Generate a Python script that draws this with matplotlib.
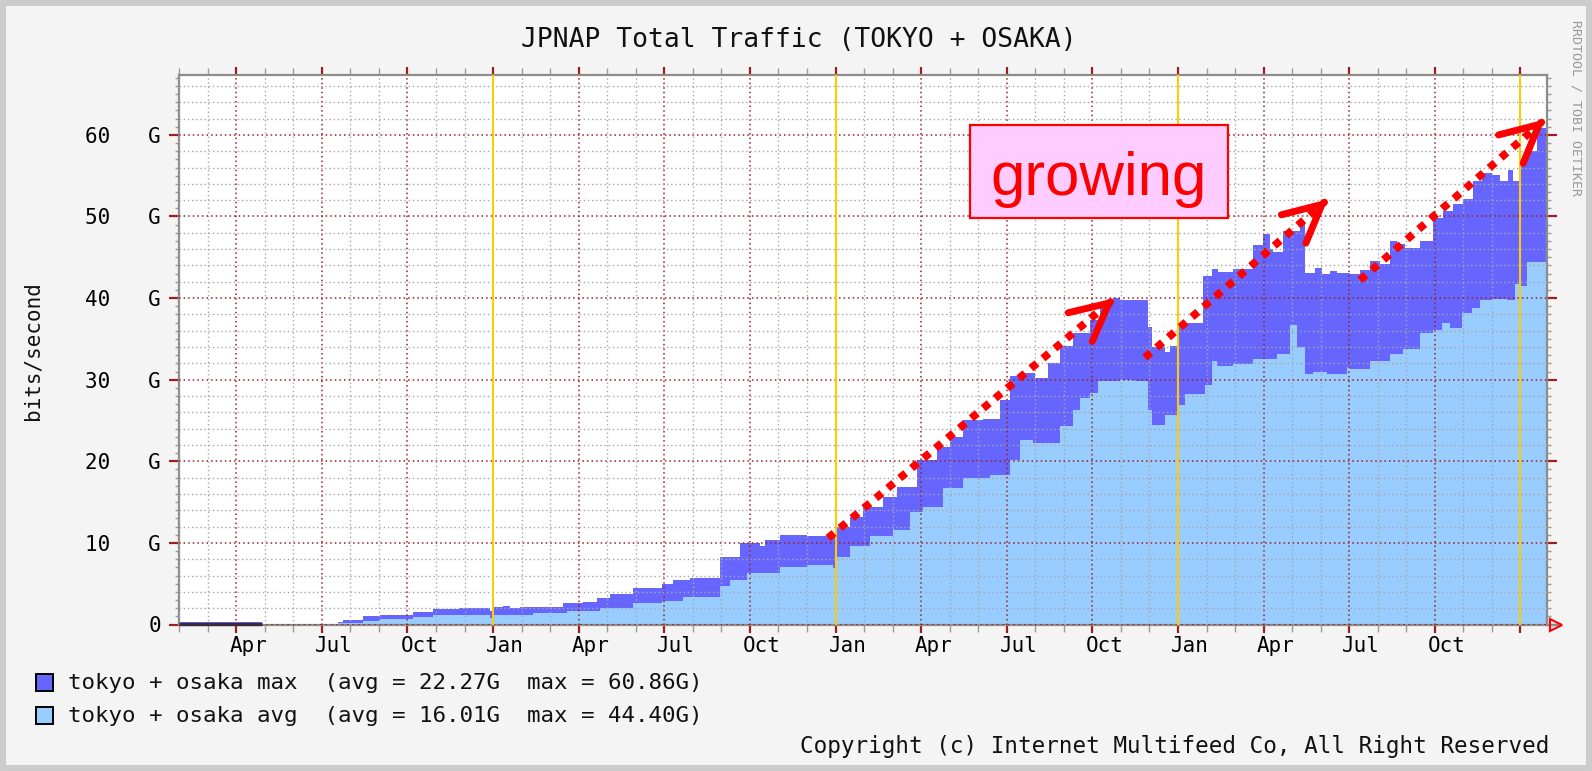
import numpy as np
import matplotlib
matplotlib.use("Agg")
import matplotlib.pyplot as plt
from matplotlib.patches import Rectangle
from matplotlib.transforms import blended_transform_factory

plt.rcParams['font.family'] = ['DejaVu Sans Mono']

# ---------------- data (x = months since January of the first year) ----------------
max_months = [1.0, 3.9, 6.57, 6.74, 7.44, 8.04, 9.19, 9.89, 10.84, 11.91,
              12.03, 12.35, 12.59, 12.94, 14.45, 15.15, 15.64, 16.10, 16.90, 17.92,
              18.30, 18.90, 19.95, 20.65, 21.35, 21.53, 22.05, 23.00, 23.98, 24.51,
              24.96, 25.66, 26.15, 26.85, 27.55, 28.01, 28.46, 29.16, 29.76, 30.11,
              30.53, 30.99, 31.44, 31.86, 32.32, 32.92, 33.27, 33.72, 33.97, 34.95,
              35.09, 35.54, 35.72, 36.00, 36.88, 37.19, 37.40, 37.93, 38.63, 38.98,
              39.23, 39.33, 39.68, 40.28, 40.45, 40.80, 41.05, 41.33, 41.57, 42.03,
              42.38, 42.73, 43.08, 43.43, 43.68, 43.96, 44.48, 44.93, 45.28, 45.63,
              45.99, 46.34, 46.65, 47.00, 47.28, 47.56, 47.74, 47.98, 48.16, 48.58]
max_vals = [0.25, 0.0, 0.3, 0.6, 1.0, 1.2, 1.5, 1.9, 2.0, 1.6,
            2.1, 2.3, 2.0, 2.2, 2.6, 2.8, 3.25, 3.7, 4.5, 5.0,
            5.4, 5.7, 8.25, 10.0, 9.6, 10.3, 11.0, 10.8, 12.0, 13.2,
            14.4, 15.6, 16.9, 20.1, 21.7, 23.0, 25.0, 25.2, 27.5, 30.5,
            30.8, 30.2, 32.0, 34.1, 35.7, 37.3, 39.4, 40.0, 39.8, 36.5,
            34.0, 33.4, 34.1, 37.0, 42.7, 43.6, 43.2, 43.6, 46.5, 47.8,
            46.0, 45.7, 48.2, 49.2, 43.1, 43.7, 42.9, 43.3, 43.1, 42.9,
            43.5, 44.6, 44.2, 47.0, 46.6, 46.2, 47.0, 49.8, 50.7, 51.5,
            52.1, 54.3, 55.3, 55.1, 54.3, 55.7, 54.3, 56.5, 58.0, 60.8]

avg_months = [1.0, 3.9, 6.57, 7.44, 8.04, 9.19, 9.89, 11.91, 12.03, 13.40,
              14.59, 15.75, 16.90, 17.92, 18.65, 19.95, 20.30, 20.90, 22.05, 23.00,
              23.91, 24.05, 24.51, 25.21, 26.01, 26.61, 27.07, 27.77, 28.46, 29.41,
              30.11, 30.46, 30.92, 31.86, 32.32, 32.57, 32.92, 33.20, 33.97, 34.49,
              34.95, 35.09, 35.54, 36.00, 36.24, 36.95, 37.19, 37.37, 37.93, 38.63,
              39.48, 39.93, 40.17, 40.45, 40.73, 41.22, 41.92, 42.03, 42.73, 43.43,
              43.89, 44.48, 44.93, 45.25, 45.53, 45.95, 46.30, 46.58, 47.04, 47.53,
              47.81, 47.98, 48.23]
avg_vals = [0.15, 0.0, 0.2, 0.4, 0.7, 0.9, 1.2, 0.8, 1.2, 1.4,
            1.7, 2.0, 2.6, 2.85, 3.4, 4.7, 5.5, 6.3, 7.1, 7.3,
            6.9, 8.3, 9.6, 10.8, 11.6, 13.8, 14.4, 16.7, 17.9, 18.3,
            20.1, 22.6, 22.2, 24.3, 26.3, 27.8, 28.4, 29.8, 30.0, 29.8,
            26.3, 24.4, 25.7, 26.9, 28.2, 29.4, 32.3, 31.7, 31.9, 32.5,
            33.2, 36.7, 34.0, 30.7, 30.9, 30.7, 31.5, 31.3, 32.3, 33.2,
            33.8, 35.7, 36.1, 36.9, 36.3, 38.2, 38.8, 39.8, 39.9, 39.8,
            41.7, 41.5, 44.4]
data_end = 48.93

quarter_months = list(range(3, 46, 3))
quarter_labels = ['Apr', 'Jul', 'Oct', 'Jan'] * 3 + ['Apr', 'Jul', 'Oct']
year_starts = [12, 24, 36, 48]

ytick_vals = [0, 10, 20, 30, 40, 50, 60]
ytick_labels = ['0', '10   G', '20   G', '30   G', '40   G', '50   G', '60   G']

legend_entries = [
    ('#6666ff', 'tokyo + osaka max  (avg = 22.27G  max = 60.86G)'),
    ('#99ccff', 'tokyo + osaka avg  (avg = 16.01G  max = 44.40G)'),
]

# growth arrows: (month0, G0, month1, G1)
arrows = [(23.74, 10.6, 33.79, 40.0),
          (34.84, 32.7, 41.25, 52.1),
          (42.38, 42.2, 48.86, 61.9)]

# ---------------- figure ----------------
W, H, DPI = 1592, 771, 100
fig = plt.figure(figsize=(W / DPI, H / DPI), dpi=DPI, facecolor='#f4f4f4')
L, R, T, B = 179, 1547, 75, 624.5
ax = fig.add_axes([L / W, 1 - B / H, (R - L) / W, (B - T) / H])
ax.set_facecolor('white')
ax.set_xlim(0.995, data_end)
ax.set_ylim(0, 67.34)

def stepped(xs, vs, end):
    return np.array(list(xs) + [end]), np.array(list(vs) + [vs[-1]])

n = min(len(max_months), len(max_vals))
mx, mv = stepped(max_months[:n], max_vals[:n], data_end)
n = min(len(avg_months), len(avg_vals))
axx, av = stepped(avg_months[:n], avg_vals[:n], data_end)

ax.fill_between(mx, 0, mv, step='post', color='#6666ff', lw=0, zorder=1)
ax.fill_between(axx, 0, av, step='post', color='#99ccff', lw=0, zorder=2)

# ---------------- grid ----------------
minor_c = '#a6a6a6'
major_c = '#9a2020'
dot = (0, (1, 2))
for m in range(1, 49):
    if m in year_starts:
        continue
    if m % 3 == 0:
        ax.axvline(m, color=major_c, lw=1.1, ls=dot, zorder=3)
    else:
        ax.axvline(m, color=minor_c, lw=1.0, ls=dot, zorder=3)
for g in range(2, 68, 2):
    if g % 10 == 0:
        ax.axhline(g, color=major_c, lw=1.1, ls=dot, zorder=3)
    else:
        ax.axhline(g, color=minor_c, lw=1.0, ls=dot, zorder=3)
ax.axhline(0, color=major_c, lw=1.3, ls=dot, zorder=3.5)
for m in year_starts:
    ax.axvline(m, color='#ffcc00', lw=1.5, zorder=4)

# first tiny segment drawn as a dark line
ax.plot(max_months[0:2], [0.1, 0.1], color='#3a2a3a', lw=2.4, zorder=4.5,
        solid_capstyle='butt', clip_on=False)

for s in ax.spines.values():
    s.set_color('#8c8c8c')
    s.set_linewidth(1.6)

ax.set_yticks(ytick_vals)
ax.set_yticklabels(ytick_labels)
ax.set_yticks(np.arange(0, 67.3, 1), minor=True)
ax.tick_params(axis='y', which='major', direction='out', length=7, width=1.6,
               color=major_c, left=True, right=True, labelsize=15, pad=6,
               labelcolor='#000000')
ax.tick_params(axis='y', which='minor', direction='out', length=3, width=1,
               color='#9a9a9a', left=True, right=True)
ax.set_xticks(range(3, 49, 3))
ax.set_xticklabels([])
ax.set_xticks(range(1, 49), minor=True)
ax.tick_params(axis='x', which='major', direction='out', length=6, width=1.6,
               color=major_c, top=True, bottom=True)
ax.tick_params(axis='x', which='minor', direction='out', length=5, width=1,
               color='#9a9a9a', top=True, bottom=True)

trans = blended_transform_factory(ax.transData, fig.transFigure)
for m, lab in zip(quarter_months, quarter_labels):
    ax.text(m + 0.42, 1 - 646 / H, lab, transform=trans, ha='center', va='center',
            fontsize=15, color='black')

# x-axis arrow
ax.plot([1.0, 1.008], [0, 0], transform=ax.transAxes, color='#8c8c8c', lw=1.6,
        clip_on=False, zorder=5)
ax.plot([1.0 + 9 / (R - L)], [0], transform=ax.transAxes, marker='>', ms=9,
        mfc='none', mec='red', mew=1.5, clip_on=False, zorder=6)

# ---------------- growth arrows ----------------
for m0, g0, m1, g1 in arrows:
    ax.plot([m0, m0 + 0.96 * (m1 - m0)], [g0, g0 + 0.96 * (g1 - g0)], color='red',
            lw=5.6, ls=(0, (1, 1.0)), dash_capstyle='butt', zorder=6, clip_on=False)
    ax.annotate('', xy=(m1, g1),
                xytext=(m1 - 0.02 * (m1 - m0), g1 - 0.02 * (g1 - g0)),
                arrowprops=dict(arrowstyle='->,head_length=1.0,head_width=0.5',
                                color='red', lw=5.0, shrinkA=0, shrinkB=0,
                                mutation_scale=27),
                zorder=7, annotation_clip=False)

# ---------------- texts ----------------
fig.text(799 / W, 1 - 40 / H, 'JPNAP Total Traffic (TOKYO + OSAKA)', ha='center',
         va='center', fontsize=19, color='#111111')
fig.text(33 / W, 1 - 351 / H, 'bits/second', rotation=90, ha='center', va='center',
         fontsize=15, color='#111111')
fig.text(1576 / W, 1 - 20 / H, 'RRDTOOL / TOBI OETIKER', rotation=270, ha='center',
         va='top', fontsize=9.5, color='#9a9a9a')
fig.text(1549 / W, 1 - 746 / H, 'Copyright (c) Internet Multifeed Co, All Right Reserved',
         ha='right', va='center', fontsize=16.3, color='#111111')

for i, (col, lab) in enumerate(legend_entries):
    ytop = 674 + i * 33
    fig.add_artist(Rectangle((36 / W, 1 - (ytop + 17) / H), 17 / W, 17 / H,
                             transform=fig.transFigure, facecolor=col,
                             edgecolor='black', lw=1.4))
    fig.text(68 / W, 1 - (ytop + 9) / H, lab, ha='left', va='center', fontsize=16.2,
             color='#111111')

# "growing" box
fig.add_artist(Rectangle((970 / W, 1 - 218 / H), 258 / W, 93 / H,
                         transform=fig.transFigure, facecolor='#ffccff',
                         edgecolor='#ff0000', lw=1.6, zorder=10))
fig.text(1099 / W, 1 - 195 / H, 'growing', ha='center', va='baseline', fontsize=44.5,
         color='#ff0000', family=['Liberation Sans'], zorder=11)

# outer frame
fig.add_artist(Rectangle((3 / W, 3 / H), (W - 6) / W, (H - 6) / H,
                         transform=fig.transFigure, facecolor='none',
                         edgecolor='#cccccc', lw=4.3))

fig.savefig('out.png', dpi=DPI, facecolor=fig.get_facecolor())
